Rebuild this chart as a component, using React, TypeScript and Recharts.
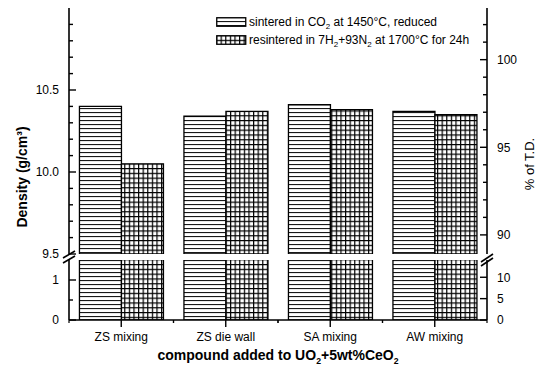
import React from 'react';
import { BarChart, Bar, XAxis, YAxis, Legend } from 'recharts';

// Densities of UO2+5wt%CeO2 pellets by lubricant addition route (g/cm3)
const categories = ['ZS mixing', 'ZS die wall', 'SA mixing', 'AW mixing'];
const sinteredDensity = [10.4, 10.34, 10.41, 10.37];
const resinteredDensity = [10.05, 10.37, 10.38, 10.35];
const seriesNames = [
  'sintered in CO₂ at 1450°C, reduced',
  'resintered in 7H₂+93N₂ at 1700°C for 24h',
];

// Theoretical density used for the % of T.D. axis
const THEORETICAL_DENSITY = 10.685;

// Broken density axis: upper and lower segments
const upperDomain = [9.5, 11.0];
const lowerDomain = [0, 1.5];
const upperDensityTicks = [9.5, 9.6, 9.7, 9.8, 9.9, 10.0, 10.1, 10.2, 10.3, 10.4, 10.5, 10.6, 10.7, 10.8, 10.9];
const upperDensityLabels = [9.5, 10.0, 10.5];
const lowerDensityTicks = [0, 0.5, 1];
const lowerDensityLabels = [0, 1];
const upperPercentTicks = [90, 91, 92, 93, 94, 95, 96, 97, 98, 99, 100, 101, 102];
const upperPercentLabels = [90, 95, 100];
const lowerPercentTicks = [0, 5, 10];
const lowerPercentLabels = [0, 5, 10];

const data = categories.map((name, i) => ({
  name,
  sintered: sinteredDensity[i],
  resintered: resinteredDensity[i],
}));

const toPercent = (d: number) => (d / THEORETICAL_DENSITY) * 100;
const upperPercentDomain = [toPercent(upperDomain[0]), toPercent(upperDomain[1])];
const lowerPercentDomain = [toPercent(lowerDomain[0]), toPercent(lowerDomain[1])];

const FONT = '"Liberation Sans", Arial, Helvetica, sans-serif';
const INK = '#000';

// Render "₂" as a lowered small 2 (HTML)
const htmlSub = (s: string) => {
  const parts = s.split('₂');
  return parts.map((p, i) => (
    <React.Fragment key={i}>
      {p}
      {i < parts.length - 1 && (
        <sub style={{ fontSize: 8, verticalAlign: -3, lineHeight: 0 }}>2</sub>
      )}
    </React.Fragment>
  ));
};

// Render "₂" as a lowered small 2 (SVG)
const svgSub = (s: string, size: number) => {
  const parts = s.split('₂');
  const out: React.ReactNode[] = [];
  parts.forEach((p, i) => {
    out.push(
      <tspan key={'t' + i} dy={i === 0 ? 0 : -4} fontSize={size}>
        {p}
      </tspan>
    );
    if (i < parts.length - 1) {
      out.push(
        <tspan key={'s' + i} dy={4} fontSize={size * 0.62}>
          2
        </tspan>
      );
    }
  });
  return out;
};

const isIn = (list: number[], v: number) => list.some((l) => Math.abs(l - v) < 1e-6);

const makeYTick =
  (side: 'left' | 'right', labels: number[], fmt: (v: number) => string) =>
  (props: any) => {
    const { x, y, payload } = props;
    const v = Number(payload.value);
    const major = isIn(labels, v);
    const dir = side === 'left' ? 1 : -1;
    const len = major ? 7 : 4;
    return (
      <g>
        <line x1={x} y1={y} x2={x + dir * len} y2={y} stroke={INK} strokeWidth={1.4} />
        {major && (
          <text
            x={x - dir * 10}
            y={y}
            dy="0.36em"
            textAnchor={side === 'left' ? 'end' : 'start'}
            fontFamily={FONT}
            fontSize={12}
            fill={INK}
          >
            {fmt(v)}
          </text>
        )}
      </g>
    );
  };

const CategoryTick = (props: any) => {
  const { x, y, payload } = props;
  const half = payload && typeof payload.offset === 'number' ? payload.offset : 0;
  return (
    <g>
      <line x1={x} y1={y} x2={x} y2={y + 7} stroke={INK} strokeWidth={1.4} />
      {half > 0 && (
        <>
          <line x1={x - half} y1={y} x2={x - half} y2={y + 3} stroke={INK} strokeWidth={1.2} />
          <line x1={x + half} y1={y} x2={x + half} y2={y + 3} stroke={INK} strokeWidth={1.2} />
        </>
      )}
      <text x={x} y={y + 21} textAnchor="middle" fontFamily={FONT} fontSize={12} fill={INK}>
        {payload.value}
      </text>
    </g>
  );
};

// Legend rows kept in series order
const LegendContent = (props: any) => {
  const items = [...(props.payload || [])].sort(
    (a: any, b: any) => seriesNames.indexOf(String(a.value)) - seriesNames.indexOf(String(b.value))
  );
  return (
    <div style={{ fontFamily: FONT, fontSize: 12, color: INK }}>
      {items.map((e: any, i: number) => (
        <div key={i} style={{ display: 'flex', alignItems: 'center', height: 18, whiteSpace: 'nowrap' }}>
          <svg width={31} height={10} style={{ marginRight: 2 }}>
            <rect x={0.75} y={0.75} width={29} height={8.5} fill={e.color} stroke={INK} strokeWidth={1.3} />
          </svg>
          <span>{htmlSub(String(e.value))}</span>
        </div>
      ))}
    </div>
  );
};

const axisLine = { stroke: INK, strokeWidth: 1.6 };
const fmt1 = (v: number) => v.toFixed(1);
const fmt0 = (v: number) => String(Math.round(v));

const barProps = {
  stroke: INK,
  strokeWidth: 1.3,
  isAnimationActive: false,
};

export default function App() {
  return (
    <div style={{ position: 'absolute', left: 0, top: 0, width: 544, height: 373, background: '#fff' }}>
      <svg width={0} height={0} style={{ position: 'absolute' }}>
        <defs>
          <pattern id="hlines" patternUnits="userSpaceOnUse" width={8} height={4}>
            <rect width={8} height={4} fill="#fff" />
            <line x1={0} y1={0.6} x2={8} y2={0.6} stroke={INK} strokeWidth={1} />
          </pattern>
          <pattern id="grid" patternUnits="userSpaceOnUse" width={4.6} height={4.8}>
            <rect width={4.6} height={4.8} fill="#fff" />
            <line x1={0} y1={0.6} x2={4.6} y2={0.6} stroke={INK} strokeWidth={1.2} />
            <line x1={0.6} y1={0} x2={0.6} y2={4.8} stroke={INK} strokeWidth={1.2} />
          </pattern>
        </defs>
      </svg>

      {/* Upper segment: 9.5 - 11.0 g/cm3 */}
      <div style={{ position: 'absolute', left: 0, top: 0 }}>
        <BarChart
          width={544}
          height={373}
          data={data}
          margin={{ top: 8, right: 17, bottom: 119, left: 19 }}
          barCategoryGap="10%"
          barGap={0}
        >
          <XAxis dataKey="name" hide />
          <XAxis
            xAxisId="frame"
            orientation="top"
            dataKey="name"
            height={0}
            tick={false}
            tickLine={false}
            axisLine={axisLine}
          />
          <YAxis
            yAxisId="d"
            type="number"
            domain={upperDomain}
            ticks={upperDensityTicks}
            interval={0}
            allowDataOverflow
            width={50}
            tickSize={0}
            tickMargin={0}
            tickLine={false}
            axisLine={axisLine}
            tick={makeYTick('left', upperDensityLabels, fmt1)}
          />
          <YAxis
            yAxisId="p"
            orientation="right"
            type="number"
            domain={upperPercentDomain}
            ticks={upperPercentTicks}
            interval={0}
            allowDataOverflow
            width={40}
            tickSize={0}
            tickMargin={0}
            tickLine={false}
            axisLine={axisLine}
            tick={makeYTick('right', upperPercentLabels, fmt0)}
          />
          <Legend
            layout="vertical"
            align="center"
            verticalAlign="middle"
            content={LegendContent}
            wrapperStyle={{ position: 'absolute', left: 216, top: 13, width: 280, height: 36 }}
          />
          <Bar yAxisId="d" dataKey="sintered" name={seriesNames[0]} fill="url(#hlines)" {...barProps} />
          <Bar yAxisId="d" dataKey="resintered" name={seriesNames[1]} fill="url(#grid)" {...barProps} />
        </BarChart>
      </div>

      {/* Lower segment: 0 - 1.5 g/cm3 */}
      <div style={{ position: 'absolute', left: 0, top: 0 }}>
        <BarChart
          width={544}
          height={373}
          data={data}
          margin={{ top: 260, right: 17, bottom: 0, left: 19 }}
          barCategoryGap="10%"
          barGap={0}
        >
          <XAxis
            dataKey="name"
            height={53}
            interval={0}
            tickSize={0}
            tickMargin={0}
            tickLine={false}
            axisLine={axisLine}
            tick={CategoryTick}
            label={(p: any) => {
              const vb = p.viewBox || {};
              return (
                <text
                  x={vb.x + vb.width / 2}
                  y={vb.y + 40}
                  textAnchor="middle"
                  fontFamily={FONT}
                  fontWeight="bold"
                  fill={INK}
                >
                  {svgSub('compound added to UO₂+5wt%CeO₂', 14)}
                </text>
              );
            }}
          />
          <YAxis
            yAxisId="d"
            type="number"
            domain={lowerDomain}
            ticks={lowerDensityTicks}
            interval={0}
            allowDataOverflow
            width={50}
            tickSize={0}
            tickMargin={0}
            tickLine={false}
            axisLine={axisLine}
            tick={makeYTick('left', lowerDensityLabels, fmt0)}
          />
          <YAxis
            yAxisId="p"
            orientation="right"
            type="number"
            domain={lowerPercentDomain}
            ticks={lowerPercentTicks}
            interval={0}
            allowDataOverflow
            width={40}
            tickSize={0}
            tickMargin={0}
            tickLine={false}
            axisLine={axisLine}
            tick={makeYTick('right', lowerPercentLabels, fmt0)}
          />
          <Bar yAxisId="d" dataKey="sintered" name={seriesNames[0]} fill="url(#hlines)" {...barProps} />
          <Bar yAxisId="d" dataKey="resintered" name={seriesNames[1]} fill="url(#grid)" {...barProps} />
        </BarChart>
      </div>

      {/* Axis titles and axis-break marks */}
      <svg width={544} height={373} style={{ position: 'absolute', left: 0, top: 0, pointerEvents: 'none' }}>
        <text
          x={22}
          y={177}
          transform="rotate(-90 22 177)"
          textAnchor="middle"
          dominantBaseline="central"
          fontFamily={FONT}
          fontWeight="bold"
          fontSize={14}
          fill={INK}
        >
          Density (g/cm³)
        </text>
        <text
          x={529}
          y={164}
          transform="rotate(-90 529 164)"
          textAnchor="middle"
          dominantBaseline="central"
          fontFamily={FONT}
          fontSize={13}
          fill={INK}
        >
          % of T.D.
        </text>
        <g stroke={INK} strokeWidth={1.6}>
          <line x1={63} y1={258} x2={75} y2={251} />
          <line x1={63} y1={263} x2={75} y2={256} />
          <line x1={481} y1={262} x2={493} y2={254} />
          <line x1={481} y1={266} x2={493} y2={258} />
        </g>
      </svg>
    </div>
  );
}
